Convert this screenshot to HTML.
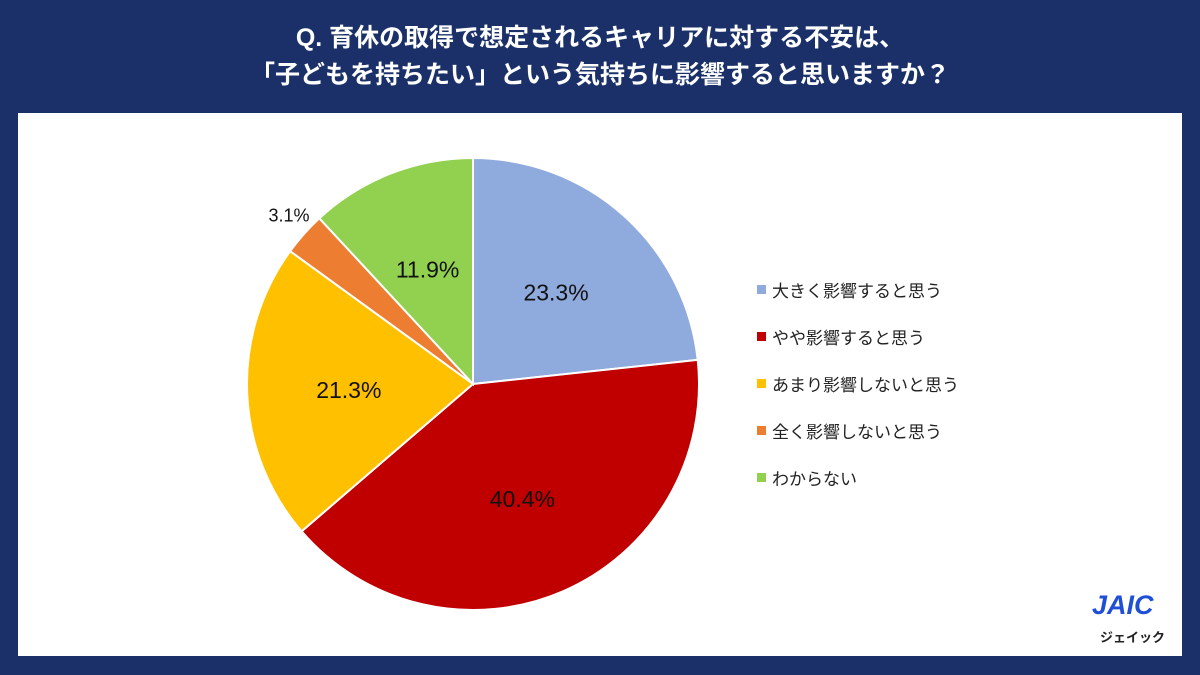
<!DOCTYPE html>
<html><head><meta charset="utf-8"><style>
body{margin:0;width:1200px;height:675px;background:#1b3068;font-family:"Liberation Sans","Noto Sans CJK JP",sans-serif;position:relative;overflow:hidden}
.title{position:absolute;left:0;width:1200px;text-align:center;color:#fff;font-weight:bold;font-size:25px;line-height:37px;top:20px}
.panel{position:absolute;left:18px;top:113px;width:1164px;height:543px;background:#fff}
.leg{position:absolute;left:757px;font-size:17px;color:#222;display:flex;align-items:center}
.leg i{display:inline-block;width:9px;height:9px;margin-right:6px}
</style></head><body>
<div class="title">Q. 育休の取得で想定されるキャリアに対する不安は、<br>「子どもを持ちたい」という気持ちに影響すると思いますか？</div>
<div class="panel"></div>
<svg id="pie" width="1200" height="675" style="position:absolute;left:0;top:0"></svg>
<div id="legend"></div>
<div style="position:absolute;left:1092px;top:590px;color:#1f4fd6;font-weight:bold;font-size:27px;font-style:italic">JAIC</div>
<div style="position:absolute;left:1100px;top:627px;color:#222;font-weight:bold;font-size:13px">ジェイック</div>
<script>
const categories=["大きく影響すると思う","やや影響すると思う","あまり影響しないと思う","全く影響しないと思う","わからない"];
const values=[23.3,40.4,21.3,3.1,11.9];
const colors=["#8faadc","#c00000","#ffc000","#ed7d31","#92d050"];
const cx=473,cy=384,r=226;
const svg=document.getElementById('pie');
const ns="http://www.w3.org/2000/svg";
const total=values.reduce((a,b)=>a+b,0);
let a0=0;
function pt(a,rr){return [cx+rr*Math.sin(a),cy-rr*Math.cos(a)];}
values.forEach((v,i)=>{
  const a1=a0+v/total*2*Math.PI;
  const p0=pt(a0,r),p1=pt(a1,r);
  const p=document.createElementNS(ns,'path');
  p.setAttribute('d',`M${cx},${cy}L${p0[0]},${p0[1]}A${r},${r} 0 ${a1-a0>Math.PI?1:0} 1 ${p1[0]},${p1[1]}Z`);
  p.setAttribute('fill',colors[i]);p.setAttribute('stroke','#fff');p.setAttribute('stroke-width','2');
  
  
  svg.appendChild(p);
  const am=(a0+a1)/2;
  const small=v<5;
  const lp=small?pt(am,r+20):pt(am,r*0.55);
  const t=document.createElementNS(ns,'text');
  t.setAttribute('x',lp[0]);t.setAttribute('y',lp[1]+(small?1:9));
  t.setAttribute('text-anchor','middle');
  t.setAttribute('font-size',small?'18':'23');
  t.setAttribute('fill','#111');
  t.textContent=v.toFixed(1)+'%';
  
  
  svg.appendChild(t);
  a0=a1;
});
const lg=document.getElementById('legend');
categories.forEach((c,i)=>{
  const d=document.createElement('div');
  d.className='leg';d.style.top=(277+i*47)+'px';
  d.innerHTML=`<i style="background:${colors[i]}"></i>${c}`;
  
  
  lg.appendChild(d);
});
</script>
</body></html>
